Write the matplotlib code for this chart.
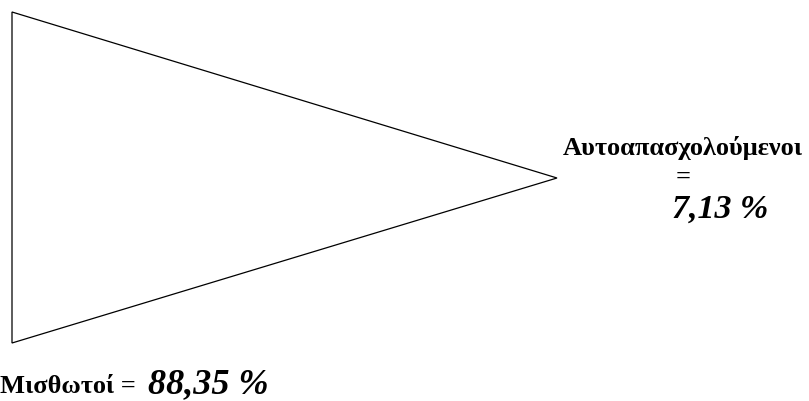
import matplotlib
matplotlib.use("Agg")
import matplotlib.pyplot as plt
from matplotlib.patches import Polygon

# Data
groups = ["Μισθωτοί", "Αυτοαπασχολούμενοι"]
shares = [88.35, 7.13]


def fmt(v):
    return f"{v:.2f}".replace(".", ",") + " %"


plt.rcParams["font.family"] = ["Liberation Serif", "DejaVu Serif"]

fig = plt.figure(figsize=(8.09, 4.01), dpi=100)
ax = fig.add_axes([0, 0, 1, 1])
ax.set_xlim(0, 809)
ax.set_ylim(401, 0)
ax.axis("off")

# triangle outline (pixel layout)
tri = Polygon([(12, 12), (12, 343), (557, 178)], closed=True,
              fill=False, edgecolor="black", linewidth=0.9)
ax.add_patch(tri)

# right label: self-employed
ax.text(683, 155, groups[1], ha="center", va="baseline",
        fontsize=19, fontweight="bold")
ax.text(683, 177, "=", ha="center", va="center",
        fontsize=19, fontweight="bold")
ax.text(672, 218, fmt(shares[1]), ha="left", va="baseline",
        fontsize=24.5, fontweight="bold", fontstyle="italic")

# bottom label: employees
ax.text(0, 393, groups[0] + " =", ha="left", va="baseline",
        fontsize=19, fontweight="bold")
ax.text(148, 393, fmt(shares[0]), ha="left", va="baseline",
        fontsize=26, fontweight="bold", fontstyle="italic")

fig.savefig("out.png", dpi=100)
